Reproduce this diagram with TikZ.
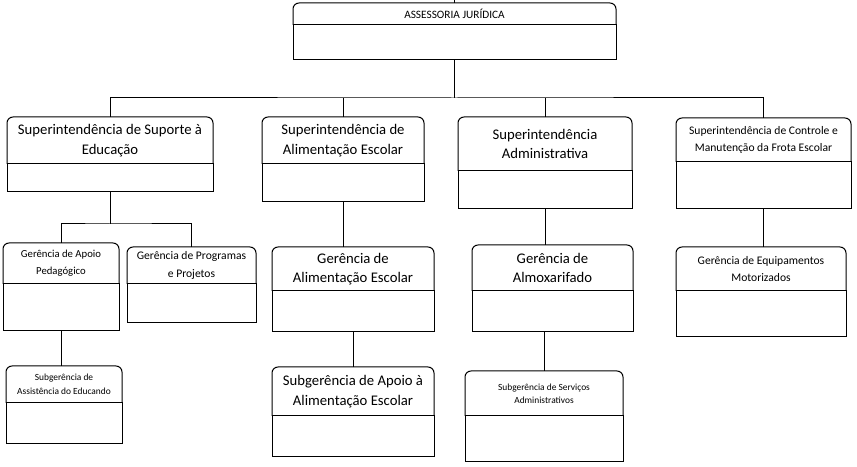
\documentclass[tikz,border=0pt]{standalone}
\usepackage{fontspec}
\setmainfont{Carlito}
\usepackage{tikz}
\usetikzlibrary{positioning}

% outline of a title part: rounded on top, square below
\newcommand{\roundtop}[1]{%
  \draw[frame] (#1.south west) -- ([yshift=-6pt]#1.north west)
    arc[start angle=180, end angle=90, radius=6pt]
    -- ([xshift=-6pt]#1.north east)
    arc[start angle=90, end angle=0, radius=6pt]
    -- (#1.south east);}

\begin{document}
\begin{tikzpicture}[
  x=1pt, y=1pt,
  frame/.style={line width=1pt, color=black},
  head/.style={inner sep=0pt, outer sep=0pt, align=center, text=black},
  body/.style={frame, draw, inner sep=0pt, outer sep=0pt},
  fbig/.style={font=\fontsize{14.7}{19.5}\selectfont},
  fmid/.style={font=\fontsize{11.6}{16.5}\selectfont},
  fsmall/.style={font=\fontsize{10.7}{18}\selectfont},
  ftiny/.style={font=\fontsize{9.4}{13.5}\selectfont},
]
  \useasboundingbox (0,0) rectangle (857,466);

  % Top
  \node[head, font=\fontsize{11.3}{12}\selectfont, minimum width=323, minimum height=22] (asj) at (454.5,452) {ASSESSORIA JURÍDICA};
  \node[body, minimum width=323, minimum height=35, below=0pt of asj] (asjb) {};
  \roundtop{asj}

  % Superintendencies
  \node[head, fbig, minimum width=206, minimum height=47] (sup1) at (110,325.5) {Superintendência de Suporte à\\Educação};
  \node[body, minimum width=206, minimum height=28, below=0pt of sup1] (sup1b) {};
  \roundtop{sup1}

  \node[head, fbig, minimum width=162, minimum height=47] (sup2) at (343,325.5) {Superintendência de\\Alimentação Escolar};
  \node[body, minimum width=162, minimum height=38, below=0pt of sup2] (sup2b) {};
  \roundtop{sup2}

  \node[head, fbig, minimum width=174, minimum height=54] (sup3) at (545,322) {Superintendência\\Administrativa};
  \node[body, minimum width=174, minimum height=38, below=0pt of sup3] (sup3b) {};
  \roundtop{sup3}

  \node[head, fmid, minimum width=175, minimum height=44] (sup4) at (763.5,326) {Superintendência de Controle e\\Manutenção da Frota Escolar};
  \node[body, minimum width=175, minimum height=47, below=0pt of sup4] (sup4b) {};
  \roundtop{sup4}

  % Gerências
  \node[head, fsmall, minimum width=116, minimum height=41] (ger1) at (61,202.5) {Gerência de Apoio\\[-1pt]Pedagógico};
  \node[body, minimum width=116, minimum height=47, below=0pt of ger1] (ger1b) {};
  \roundtop{ger1}

  \node[head, fmid, minimum width=129, minimum height=37] (ger2) at (191.5,200.5) {Gerência de Programas\\[2pt]e Projetos};
  \node[body, minimum width=129, minimum height=39, below=0pt of ger2] (ger2b) {};
  \roundtop{ger2}

  \node[head, fbig, minimum width=162, minimum height=44] (ger3) at (353,197) {Gerência de\\Alimentação Escolar};
  \node[body, minimum width=162, minimum height=41, below=0pt of ger3] (ger3b) {};
  \roundtop{ger3}

  \node[head, fbig, minimum width=161, minimum height=46] (ger4) at (552.5,198) {Gerência de\\Almoxarifado};
  \node[body, minimum width=161, minimum height=41, below=0pt of ger4] (ger4b) {};
  \roundtop{ger4}

  \node[head, fmid, minimum width=170, minimum height=44] (ger5) at (761,197) {Gerência de Equipamentos\\Motorizados};
  \node[body, minimum width=170, minimum height=46, below=0pt of ger5] (ger5b) {};
  \roundtop{ger5}

  % Subgerências
  \node[head, ftiny, minimum width=116, minimum height=37] (sub1) at (64,81.5) {Subgerência de\\Assistência do Educando};
  \node[body, minimum width=116, minimum height=41, below=0pt of sub1] (sub1b) {};
  \roundtop{sub1}

  \node[head, fbig, minimum width=162, minimum height=49] (sub2) at (353,74.5) {Subgerência de Apoio à\\[1pt]Alimentação Escolar};
  \node[body, minimum width=162, minimum height=41, below=0pt of sub2] (sub2b) {};
  \roundtop{sub2}

  \node[head, font=\fontsize{9.4}{13}\selectfont, minimum width=158, minimum height=45] (sub3) at (544,72.5) {Subgerência de Serviços\\Administrativos};
  \node[body, minimum width=158, minimum height=46, below=0pt of sub3] (sub3b) {};
  \roundtop{sub3}

  % Connectors
  \coordinate (top) at (asj.north |- 0,466);
  \coordinate (bus) at (asjb.south |- 0,368);
  \coordinate (bus1) at (sup1b.south |- 0,242);
  \draw[frame] (top) -- (asj.north);
  \draw[frame] (asjb.south) -- (bus);
  \draw[frame] (sup1.north) |- (bus) -| (sup4.north);
  \draw[frame] (bus -| sup2.north) -- (sup2.north);
  \draw[frame] (bus -| sup3.north) -- (sup3.north);
  \draw[frame] (sup1b.south) -- (bus1);
  \draw[frame] (ger1.north) |- (bus1) -| (ger2.north);
  \draw[frame] (sup2b.south) -- (sup2b.south |- ger3.north);
  \draw[frame] (sup3b.south) -- (sup3b.south |- ger4.north);
  \draw[frame] (sup4b.south) -- (sup4b.south |- ger5.north);
  \draw[frame] (ger1b.south) -- (ger1b.south |- sub1.north);
  \draw[frame] (ger3b.south) -- (sub2.north);
  \draw[frame] (ger4b.south -| sub3.north) -- (sub3.north);
\end{tikzpicture}
\end{document}
